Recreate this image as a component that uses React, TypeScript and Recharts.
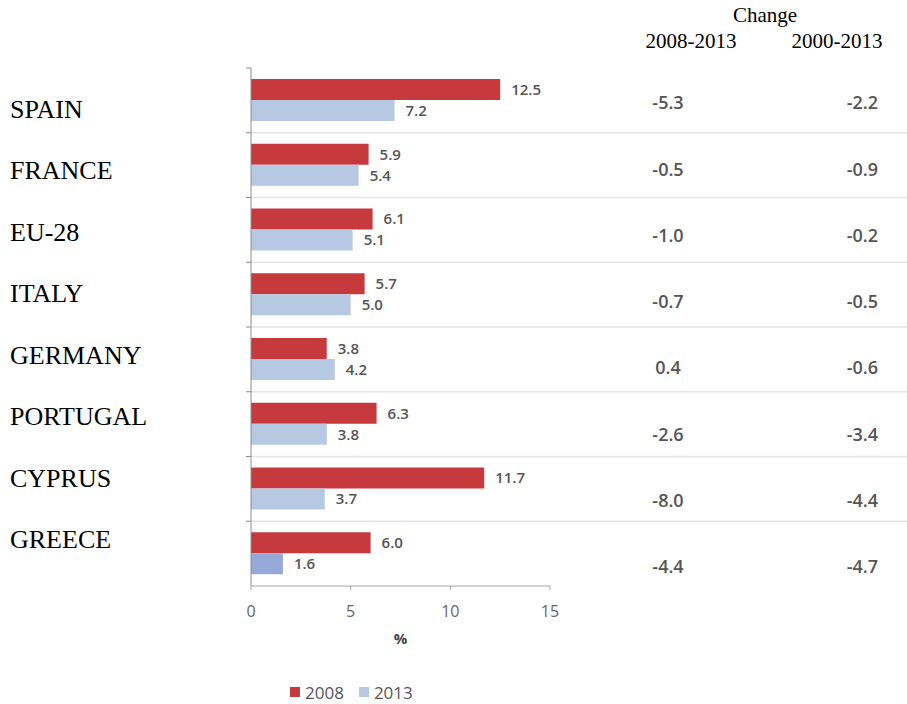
import React from "react";
import { Bar, BarChart, CartesianGrid, Cell, LabelList, Legend, XAxis, YAxis } from "recharts";

const countries = ["SPAIN", "FRANCE", "EU-28", "ITALY", "GERMANY", "PORTUGAL", "CYPRUS", "GREECE"];
const rate2008 = [12.5, 5.9, 6.1, 5.7, 3.8, 6.3, 11.7, 6.0];
const rate2013 = [7.2, 5.4, 5.1, 5.0, 4.2, 3.8, 3.7, 1.6];
const change2008to2013 = ["-5.3", "-0.5", "-1.0", "-0.7", "0.4", "-2.6", "-8.0", "-4.4"];
const change2000to2013 = ["-2.2", "-0.9", "-0.2", "-0.5", "-0.6", "-3.4", "-4.4", "-4.7"];
const xTicks = [0, 5, 10, 15];

const data = countries.map((country, i) => ({
  country,
  y2008: rate2008[i],
  y2013: rate2013[i],
}));

const RED = "#c63a3d";
const BLUE = "#b7c8e2";
const BLUE_DARK = "#97a9d9";
const SERIF = "'Liberation Serif', 'Times New Roman', serif";
const SANS = "'Open Sans', 'Liberation Sans', sans-serif";

const fmt = (v: any) => Number(v).toFixed(1);

// grid rows sit between categories, not on them
const rowLines = ({ offset }: any) => {
  const step = offset.height / countries.length;
  return countries.map((_, i) => offset.top + step * i);
};

const GridRow = (props: any) => {
  const { x1, y1, index } = props;
  return (
    <g key={`row-${index}`}>
      <line x1={x1 - 5} x2={x1} y1={y1} y2={y1} stroke="#8c8c8c" />
      {index > 0 && <line x1={x1} x2={907} y1={y1} y2={y1} stroke="#e4e4e4" strokeWidth={1.5} />}
    </g>
  );
};

const NameTick = ({ y, payload }: any) => (
  <text x={10} y={y} dy="0.34em" fontFamily={SERIF} fontSize={26} fill="#000">
    {payload.value}
  </text>
);

const ChangeTick = ({ y, index }: any) => (
  <g fontFamily={SANS} fontSize={18} fontWeight={600} fill="#555">
    <text x={668} y={y} dy="0.35em" textAnchor="middle">
      {change2008to2013[index]}
    </text>
    <text x={878} y={y} dy="0.35em" textAnchor="end">
      {change2000to2013[index]}
    </text>
  </g>
);

const renderLegend = ({ payload }: any) => (
  <div style={{ display: "flex", alignItems: "center", height: 24, fontFamily: SANS, fontSize: 17, color: "#555" }}>
    {(payload || []).map((item: any) => (
      <span key={item.value} style={{ display: "flex", alignItems: "center", marginRight: 15 }}>
        <span style={{ width: 10, height: 10, background: item.color, marginRight: 5, display: "inline-block" }} />
        {item.value}
      </span>
    ))}
  </div>
);

const headStyle: React.CSSProperties = {
  position: "absolute",
  fontFamily: SERIF,
  fontSize: 21,
  lineHeight: 1,
  color: "#000",
  transform: "translateX(-50%)",
  whiteSpace: "nowrap",
};

export default function App() {
  return (
    <div style={{ position: "absolute", left: 0, top: 0, width: 907, height: 704, background: "#fff" }}>
      <div style={{ ...headStyle, left: 765, top: 5 }}>Change</div>
      <div style={{ ...headStyle, left: 691, top: 31 }}>2008-2013</div>
      <div style={{ ...headStyle, left: 837, top: 31 }}>2000-2013</div>
      <BarChart
        width={907}
        height={704}
        data={data}
        layout="vertical"
        margin={{ top: 68, right: 0, bottom: 0, left: 0 }}
        barCategoryGap={11}
        barGap={0}
      >
        <CartesianGrid
          yAxisId="bars"
          vertical={false}
          horizontalCoordinatesGenerator={rowLines}
          horizontal={GridRow}
        />
        <XAxis
          type="number"
          domain={[0, 15]}
          ticks={xTicks}
          height={94}
          tickSize={4}
          tickMargin={16}
          axisLine={{ stroke: "#a6a6a6" }}
          tickLine={{ stroke: "#a6a6a6" }}
          tick={{ fill: "#666", fontSize: 16, fontFamily: SANS }}
          label={{ value: "%", position: "insideTop", offset: 47, fill: "#444", fontSize: 15, fontWeight: 700, fontFamily: SANS }}
        />
        <YAxis
          yAxisId="bars"
          type="category"
          dataKey="country"
          width={251}
          tick={false}
          tickLine={false}
          axisLine={{ stroke: "#8c8c8c" }}
        />
        <YAxis
          yAxisId="names"
          type="category"
          dataKey="country"
          mirror
          axisLine={false}
          tickLine={false}
          padding={{ top: 10, bottom: 16 }}
          tick={NameTick}
        />
        <YAxis
          yAxisId="chg"
          type="category"
          dataKey="country"
          orientation="right"
          width={357}
          axisLine={false}
          tickLine={false}
          padding={{ top: 2, bottom: -14 }}
          tick={ChangeTick}
        />
        <Legend
          verticalAlign="bottom"
          align="left"
          content={renderLegend}
          wrapperStyle={{ left: 290, width: 300 }}
        />
        <Bar yAxisId="bars" dataKey="y2008" name="2008" fill={RED} isAnimationActive={false}>
          <LabelList dataKey="y2008" position="right" offset={11} formatter={fmt} fill="#555" fontSize={15} fontWeight={600} fontFamily={SANS} />
        </Bar>
        <Bar yAxisId="bars" dataKey="y2013" name="2013" fill={BLUE} isAnimationActive={false}>
          {data.map((d) => (
            <Cell key={d.country} fill={d.country === "GREECE" ? BLUE_DARK : BLUE} />
          ))}
          <LabelList dataKey="y2013" position="right" offset={11} formatter={fmt} fill="#555" fontSize={15} fontWeight={600} fontFamily={SANS} />
        </Bar>
      </BarChart>
    </div>
  );
}
